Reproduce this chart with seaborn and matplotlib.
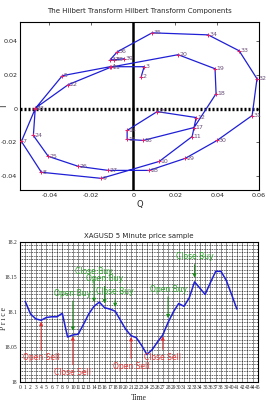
"""Hilbert transform phasor plot and XAGUSD price sample with trade signals."""

import matplotlib

matplotlib.use("Agg")
import matplotlib.pyplot as plt
import numpy as np
import pandas as pd
import seaborn as sns

# --- Hilbert transform components (Q on x, I on y), labelled by bar index ---
bar_index = list(range(2, 40))
q_values = [0.0038, 0.0052, -0.0110, -0.0338, -0.0467, -0.0533, -0.0438, -0.0152, 0.0124, 0.0281,
            0.0300, 0.0114, -0.0029, -0.0029, 0.0048, 0.0290, 0.0395, 0.0390, 0.0214, -0.0105,
            -0.0310, -0.0467, -0.0476, -0.0405, -0.0262, -0.0119, 0.0076, 0.0248, 0.0400, 0.0567,
            0.0590, 0.0505, 0.0357, 0.0090, -0.0076, -0.0110, -0.0090, -0.0043]
i_values = [0.0188, 0.0247, 0.0247, 0.0194, 0.0000, -0.0194, -0.0376, -0.0412, -0.0312, -0.0165,
            -0.0053, -0.0018, -0.0129, -0.0182, -0.0188, -0.0112, 0.0088, 0.0235, 0.0318, 0.0245,
            0.0141, 0.0002, -0.0159, -0.0282, -0.0341, -0.0365, -0.0365, -0.0294, -0.0188, -0.0041,
            0.0176, 0.0341, 0.0435, 0.0447, 0.0335, 0.0288, 0.0288, 0.0294]

# --- XAGUSD 5 minute price sample ---
time_steps = list(range(1, 42))
prices = [18.115, 18.097, 18.090, 18.088, 18.092, 18.093, 18.093, 18.098, 18.064, 18.067,
          18.068, 18.082, 18.097, 18.108, 18.114, 18.106, 18.104, 18.101, 18.088, 18.075,
          18.066, 18.063, 18.052, 18.039, 18.046, 18.057, 18.067, 18.085, 18.100, 18.112,
          18.108, 18.120, 18.143, 18.134, 18.125, 18.142, 18.158, 18.158, 18.145, 18.125,
          18.104]

buy_times = [10, 14, 16, 18, 28, 33]
buy_labels = ["Open Buy", "Close Buy", "Open Buy", "Close Buy", "Open Buy", "Close Buy"]
sell_times = [4, 10, 21, 27]
sell_labels = ["Open Sell", "Close Sell", "Open Sell", "Close Sell"]

# arrow lengths in points (layout only)
buy_offsets = [30, 25, 21, 14, 24, 18]
sell_offsets = [-27, -27, -22, -16]

NARROW = ["Liberation Sans Narrow", "DejaVu Sans"]
SERIF = ["Liberation Serif", "DejaVu Serif"]

sns.set_style("white")
plt.rcParams["font.family"] = NARROW

fig = plt.figure(figsize=(2.66, 4.04), dpi=100)
ax_top = fig.add_axes([0.075, 0.53, 0.899, 0.416])
ax_bot = fig.add_axes([0.075, 0.055, 0.895, 0.346])

# ---------------- top: phasor diagram ----------------
hilbert = pd.DataFrame({"bar": bar_index, "Q": q_values, "I": i_values})
ax_top.axhline(0, color="black", lw=2.4, ls=(0, (0.6, 0.6)), zorder=1)
ax_top.axvline(0, color="black", lw=1.8, zorder=1)
sns.lineplot(data=hilbert, x="Q", y="I", sort=False, estimator=None, color="#1f1fd6",
             lw=0.9, ax=ax_top, zorder=2)
ax_top.plot(hilbert["Q"], hilbert["I"], ls="none", marker="+", color="#e0206a",
            ms=3.5, mew=0.7, zorder=3)
for _, row in hilbert.iterrows():
    ax_top.text(row["Q"] + 0.0005, row["I"], f"{int(row['bar'])}", fontsize=4.5,
                color="#6a4f7a", ha="left", va="center", zorder=4)

ax_top.set_xlim(-0.054, 0.06)
ax_top.set_ylim(-0.048, 0.0512)
ax_top.set_xticks([-0.04, -0.02, 0, 0.02, 0.04, 0.06])
ax_top.set_xticklabels(["-0.04", "-0.02", "0", "0.02", "0.04", "0.06"])
ax_top.set_yticks([-0.04, -0.02, 0, 0.02, 0.04])
ax_top.set_yticklabels(["-0.04", "-0.02", "0", "0.02", "0.04"])
ax_top.tick_params(direction="in", length=2.5, width=0.5, labelsize=4.6, pad=2,
                   top=True, right=True)
ax_top.set_xlabel("Q", fontsize=6, labelpad=2)
ax_top.set_ylabel("I", fontsize=6)
ax_top.yaxis.set_label_coords(-0.05, 0.5)
ax_top.set_title("The Hilbert Transform Hilbert Transform Components", fontsize=5, pad=6)
for spine in ax_top.spines.values():
    spine.set_linewidth(0.8)
    spine.set_color("black")

# ---------------- bottom: price sample ----------------
price_df = pd.DataFrame({"Time": time_steps, "Price": prices})
sns.lineplot(data=price_df, x="Time", y="Price", color="#1f1fd6", lw=1.1, ax=ax_bot, zorder=3)

ax_bot.set_xlim(0, 45)
ax_bot.set_ylim(18.0, 18.2)
ax_bot.set_xticks(np.arange(0, 46))
ax_bot.set_xticklabels([str(v) for v in range(46)], family=SERIF)
ax_bot.set_yticks([18.0, 18.05, 18.1, 18.15, 18.2])
ax_bot.set_yticklabels(["18", "18.05", "18.1", "18.15", "18.2"], family=SERIF)
ax_bot.set_yticks(np.arange(18.0, 18.2001, 0.005), minor=True)
ax_bot.tick_params(axis="both", which="both", direction="in", length=0, labelsize=4, pad=2)
ax_bot.grid(True, which="major", axis="x", color="black", ls=(0, (1.2, 1.2)), lw=0.6)
ax_bot.grid(True, which="both", axis="y", color="black", ls=(0, (1.2, 1.2)), lw=0.5)
ax_bot.set_axisbelow(True)
ax_bot.set_xlabel("Time", fontsize=5.5, family=SERIF, labelpad=3)
ax_bot.set_ylabel("P r i c e", fontsize=5.5, family=SERIF)
ax_bot.yaxis.set_label_coords(-0.05, 0.45)
ax_bot.set_title("XAGUSD 5 Minute price sample", fontsize=5, pad=3)
for spine in ax_bot.spines.values():
    spine.set_linewidth(0.8)
    spine.set_color("black")

price_at = dict(zip(time_steps, prices))
for t, label, off in zip(buy_times, buy_labels, buy_offsets):
    ax_bot.annotate(label, xy=(t, price_at[t]), xytext=(0, off), textcoords="offset points",
                    ha="center", va="center", fontsize=5.5, color="#2fa52f", zorder=5,
                    arrowprops=dict(arrowstyle="-|>", color="#1a8a1a", lw=0.7,
                                    mutation_scale=5, shrinkA=0, shrinkB=3))
for t, label, off in zip(sell_times, sell_labels, sell_offsets):
    ax_bot.annotate(label, xy=(t, price_at[t]), xytext=(0, off), textcoords="offset points",
                    ha="center", va="center", fontsize=5.5, color="#e83a3a", zorder=5,
                    arrowprops=dict(arrowstyle="-|>", color="#e03030", lw=0.7,
                                    mutation_scale=5, shrinkA=0, shrinkB=1))

fig.savefig("out.png", dpi=100)
